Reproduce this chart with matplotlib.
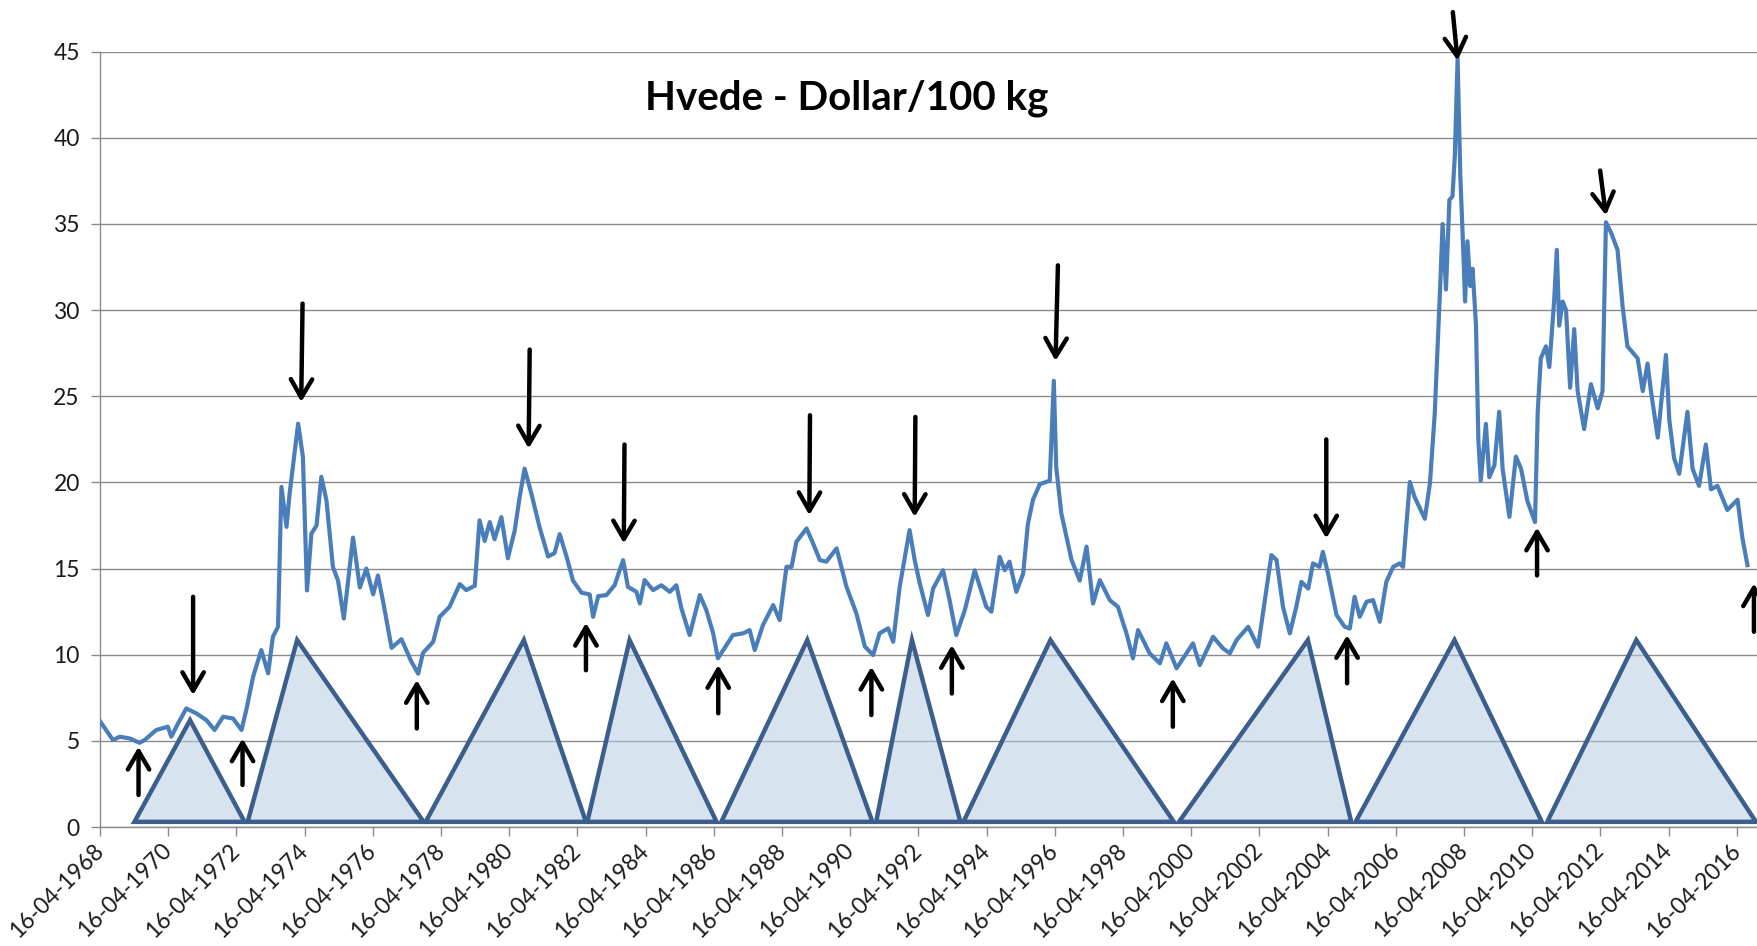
import matplotlib as mpl

mpl.use("Agg")

import matplotlib.pyplot as plt
from matplotlib.patches import Polygon

# wheat price, dollar per 100 kg
years = [
    1968.30, 1968.67, 1968.87, 1969.16, 1969.45, 1969.60, 1969.94, 1970.28, 1970.38, 1970.58,
    1970.82, 1971.12, 1971.41, 1971.65, 1971.90, 1972.19, 1972.44, 1972.58, 1972.78, 1973.02,
    1973.22, 1973.36, 1973.51, 1973.61, 1973.76, 1973.85, 1974.10, 1974.24, 1974.36, 1974.49,
    1974.64, 1974.78, 1974.93, 1975.12, 1975.27, 1975.44, 1975.71, 1975.91, 1976.10, 1976.30,
    1976.44, 1976.59, 1976.84, 1977.13, 1977.42, 1977.62, 1977.76, 1978.06, 1978.25, 1978.54,
    1978.84, 1979.03, 1979.28, 1979.42, 1979.57, 1979.72, 1979.86, 1980.06, 1980.25, 1980.45,
    1980.60, 1980.74, 1980.94, 1981.18, 1981.43, 1981.62, 1981.77, 1981.97, 1982.16, 1982.41,
    1982.65, 1982.75, 1982.90, 1983.14, 1983.38, 1983.63, 1983.77, 1984.02, 1984.12, 1984.26,
    1984.51, 1984.75, 1985.00, 1985.19, 1985.34, 1985.58, 1985.88, 1986.07, 1986.27, 1986.41,
    1986.66, 1986.85, 1987.15, 1987.34, 1987.49, 1987.73, 1988.03, 1988.22, 1988.42, 1988.57,
    1988.71, 1989.01, 1989.20, 1989.40, 1989.59, 1989.89, 1990.18, 1990.47, 1990.72, 1990.96,
    1991.15, 1991.40, 1991.55, 1991.74, 1992.03, 1992.18, 1992.33, 1992.57, 1992.72, 1993.01,
    1993.20, 1993.40, 1993.65, 1993.94, 1994.28, 1994.43, 1994.67, 1994.82, 1994.96, 1995.16,
    1995.36, 1995.50, 1995.65, 1995.85, 1996.14, 1996.26, 1996.33, 1996.48, 1996.78, 1997.02,
    1997.22, 1997.41, 1997.61, 1997.90, 1998.14, 1998.39, 1998.58, 1998.73, 1999.07, 1999.37,
    1999.56, 1999.86, 2000.15, 2000.34, 2000.54, 2000.93, 2001.22, 2001.42, 2001.62, 2001.96,
    2002.25, 2002.45, 2002.64, 2002.79, 2002.98, 2003.18, 2003.37, 2003.52, 2003.72, 2003.86,
    2004.05, 2004.15, 2004.30, 2004.55, 2004.79, 2004.94, 2005.08, 2005.23, 2005.43, 2005.62,
    2005.82, 2006.01, 2006.21, 2006.40, 2006.50, 2006.70, 2006.84, 2007.14, 2007.29, 2007.43,
    2007.59, 2007.66, 2007.76, 2007.86, 2007.95, 2008.02, 2008.10, 2008.18, 2008.25, 2008.32,
    2008.39, 2008.47, 2008.54, 2008.64, 2008.71, 2008.78, 2008.93, 2009.03, 2009.18, 2009.32,
    2009.42, 2009.62, 2009.81, 2009.96, 2010.15, 2010.37, 2010.45, 2010.54, 2010.69, 2010.79,
    2010.93, 2011.01, 2011.08, 2011.18, 2011.28, 2011.40, 2011.52, 2011.62, 2011.81, 2012.01,
    2012.21, 2012.35, 2012.45, 2012.60, 2012.79, 2012.94, 2013.08, 2013.38, 2013.53, 2013.67,
    2013.77, 2013.97, 2014.21, 2014.31, 2014.45, 2014.60, 2014.84, 2014.99, 2015.18, 2015.38,
    2015.53, 2015.72, 2016.01, 2016.31, 2016.45, 2016.60,
]
prices = [
    6.11, 5.05, 5.24, 5.14, 4.89, 5.05, 5.63, 5.82, 5.24, 6.01,
    6.88, 6.59, 6.20, 5.63, 6.40, 6.30, 5.63, 6.79, 8.72, 10.27,
    8.92, 11.04, 11.62, 19.74, 17.42, 19.35, 23.41, 21.48, 13.73, 17.03,
    17.50, 20.32, 18.97, 15.10, 14.30, 12.10, 16.80, 13.90, 15.00, 13.50,
    14.60, 13.10, 10.40, 10.90, 9.60, 8.90, 10.10, 10.75, 12.20, 12.78,
    14.10, 13.75, 14.00, 17.80, 16.60, 17.70, 16.70, 17.99, 15.60, 17.20,
    19.20, 20.80, 19.35, 17.40, 15.70, 15.90, 17.00, 15.70, 14.30, 13.60,
    13.50, 12.20, 13.40, 13.46, 14.03, 15.49, 13.94, 13.65, 12.97, 14.33,
    13.75, 14.03, 13.65, 14.03, 12.69, 11.14, 13.46, 12.59, 11.24, 9.79,
    10.56, 11.14, 11.24, 11.43, 10.27, 11.72, 12.88, 12.01, 15.10, 15.10,
    16.55, 17.33, 16.46, 15.49, 15.40, 16.17, 13.94, 12.40, 10.47, 9.98,
    11.24, 11.53, 10.75, 13.94, 17.23, 15.49, 14.13, 12.30, 13.84, 14.90,
    13.20, 11.14, 12.59, 14.90, 12.78, 12.50, 15.68, 14.90, 15.40, 13.65,
    14.70, 17.60, 19.00, 19.90, 20.10, 25.90, 20.90, 18.20, 15.50, 14.30,
    16.27, 12.97, 14.33, 13.17, 12.78, 11.24, 9.79, 11.43, 10.08, 9.50,
    10.66, 9.21, 10.08, 10.66, 9.40, 11.04, 10.37, 10.08, 10.85, 11.62,
    10.46, 13.17, 15.78, 15.50, 12.78, 11.24, 12.78, 14.23, 13.84, 15.30,
    15.10, 15.97, 14.72, 12.30, 11.62, 11.52, 13.36, 12.20, 13.07, 13.17,
    11.91, 14.23, 15.10, 15.30, 15.10, 20.03, 19.15, 17.89, 19.97, 24.00,
    31.40, 35.00, 31.20, 36.40, 36.60, 39.00, 44.60, 37.80, 34.30, 30.50,
    34.00, 31.40, 32.40, 29.10, 22.40, 20.10, 23.40, 20.30, 21.00, 24.10,
    20.80, 18.00, 21.50, 20.80, 18.90, 17.70, 24.10, 27.20, 27.90, 26.70,
    30.50, 33.50, 29.10, 30.50, 30.00, 25.50, 28.90, 25.30, 23.10, 25.70,
    24.30, 25.30, 35.10, 34.50, 33.50, 30.20, 27.90, 27.20, 25.30, 26.90,
    25.30, 22.60, 27.40, 23.60, 21.40, 20.50, 24.10, 20.80, 19.80, 22.20,
    19.60, 19.80, 18.40, 19.00, 16.80, 15.20,
]

# cycle triangles: start, apex, end (years) and apex height
tri_start = [1969.30, 1972.62, 1977.84, 1982.58, 1986.51, 1991.05, 1993.61, 1999.93, 2005.11, 2010.73]
tri_apex = [1970.93, 1974.07, 1980.72, 1983.82, 1989.03, 1992.10, 1996.16, 2003.71, 2008.01, 2013.34]
tri_end = [1972.53, 1977.78, 1982.54, 1986.37, 1990.94, 1993.52, 1999.78, 2004.98, 2010.57, 2016.85]
tri_height = [6.2, 10.85, 10.85, 10.85, 10.85, 10.85, 10.85, 10.85, 10.85, 10.85]
TRI_BASE = 0.3

# arrows at troughs (pointing up) and peaks (pointing down)
up_x = [1969.42, 1972.47, 1977.58, 1982.54, 1986.42, 1990.91, 1993.27, 1999.75, 2004.86, 2010.43, 2016.79]
up_tail = [1.86, 2.44, 5.72, 9.10, 6.60, 6.50, 7.75, 5.82, 8.34, 14.60, 11.33]
up_tip = [4.66, 5.14, 8.53, 11.85, 9.40, 9.30, 10.56, 8.63, 11.14, 17.38, 14.14]

down_tail_x = [1971.02, 1974.23, 1980.89, 1983.67, 1989.11, 1992.20, 1996.38, 2004.25, 2007.96, 2012.28]
down_tip_x = [1971.02, 1974.19, 1980.86, 1983.65, 1989.09, 1992.18, 1996.31, 2004.25, 2008.10, 2012.45]
down_tail = [13.36, 30.38, 27.71, 22.20, 23.90, 23.80, 32.60, 22.50, 47.30, 38.10]
down_tip = [7.66, 24.67, 21.97, 16.46, 18.10, 18.00, 27.05, 16.75, 44.49, 35.50]

tick_years = list(range(1968, 2017, 2))
tick_labels = [f"16-04-{y}" for y in tick_years]

LINE_COLOR = "#4a7ebb"
TRI_EDGE = "#3b5e8c"
TRI_FACE = "#b8cce4"
GRID_COLOR = "#8a8a8a"
TEXT_COLOR = "#1a1a1a"

plt.rcParams["font.family"] = ["Lato", "DejaVu Sans"]

fig = plt.figure(figsize=(17.57, 9.46), dpi=100)
ax = fig.add_axes([100 / 1757, 1 - 827 / 946, 1657 / 1757, (827 - 51.7) / 946])

ax.set_xlim(1968.29, 2016.88)
ax.set_ylim(0, 45)
ax.set_yticks(range(0, 46, 5))
ax.set_xticks([y + 0.29 for y in tick_years])
ax.set_xticklabels(tick_labels, rotation=45, ha="right", va="center", rotation_mode="anchor")
ax.tick_params(axis="both", labelsize=16.5, colors=GRID_COLOR, labelcolor=TEXT_COLOR,
               length=6.5, width=1.0, direction="out")
ax.tick_params(axis="y", pad=8)
ax.tick_params(axis="x", pad=8)
ax.grid(axis="y", color=GRID_COLOR, lw=1.0)
ax.set_axisbelow(True)
for side in ("top", "right"):
    ax.spines[side].set_visible(False)
for side in ("left", "bottom"):
    ax.spines[side].set_color(GRID_COLOR)
    ax.spines[side].set_linewidth(1.0)

for x0, xa, x1, h in zip(tri_start, tri_apex, tri_end, tri_height):
    pts = [(x0, TRI_BASE), (xa, h), (x1, TRI_BASE)]
    ax.add_patch(Polygon(pts, closed=True, facecolor=TRI_FACE, alpha=0.55,
                         edgecolor="none", zorder=2))
    ax.add_patch(Polygon(pts, closed=True, facecolor="none", edgecolor=TRI_EDGE,
                         lw=3.2, joinstyle="miter", zorder=3, clip_on=False))

ax.plot(years, prices, color=LINE_COLOR, lw=3.0, zorder=4, solid_joinstyle="round")

arrow_props = dict(arrowstyle="->,head_length=0.6,head_width=0.35", lw=3.2,
                   color="black", shrinkA=0, shrinkB=0, mutation_scale=22)
for x, t0, t1 in zip(up_x, up_tail, up_tip):
    ax.annotate("", xy=(x, t1), xytext=(x, t0), arrowprops=arrow_props,
                annotation_clip=False, zorder=5)
for xt, xh, t0, t1 in zip(down_tail_x, down_tip_x, down_tail, down_tip):
    ax.annotate("", xy=(xh, t1), xytext=(xt, t0), arrowprops=arrow_props,
                annotation_clip=False, zorder=5)

fig.text(847 / 1757, 1 - 98 / 946, "Hvede - Dollar/100 kg", ha="center", va="center",
         fontsize=29, fontweight="bold", color="black")

fig.savefig("out.png", dpi=100, facecolor="white")
